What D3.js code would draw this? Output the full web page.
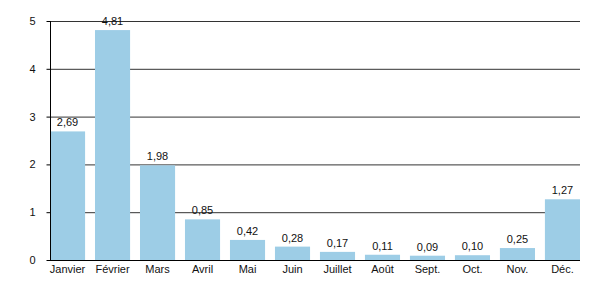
<!DOCTYPE html>
<html><head><meta charset="utf-8">
<script src="https://cdn.jsdelivr.net/npm/d3@7"></script>
<style>body{margin:0;background:#fff}svg{display:block}text{font-family:"Liberation Sans",Arial,sans-serif;font-size:11px;fill:#111}</style>
</head><body>
<svg id="c" width="600" height="300"></svg>
<script>
const months = ["Janvier","Février","Mars","Avril","Mai","Juin","Juillet","Août","Sept.","Oct.","Nov.","Déc."];
const values = [2.69,4.81,1.98,0.85,0.42,0.28,0.17,0.11,0.09,0.10,0.25,1.27];
const yTicks = [0,1,2,3,4,5];

(function(){
const svg = d3.select("#c");
const mL = 50, mR = 580, mT = 21, mB = 260;
const x = d3.scaleBand().domain(months).range([mL, mR]).paddingInner(0.22).paddingOuter(0);
const y = d3.scaleLinear().domain([0,5]).range([mB, mT]);
const fmt = v => d3.format(".2f")(v).replace(".", ",");

svg.append("g").selectAll("line").data(yTicks.filter(d=>d>0)).join("line")
  .attr("x1", mL).attr("x2", mR).attr("y1", d=>y(d)+0.5).attr("y2", d=>y(d)+0.5)
  .attr("stroke", "#333").attr("stroke-width", 1);

svg.append("g").selectAll("rect").data(values).join("rect")
  .attr("x", (d,i)=>x(months[i])).attr("width", x.bandwidth())
  .attr("y", d=>y(d)).attr("height", d=>mB - y(d))
  .attr("fill", "#9dcde6");

svg.append("g").selectAll("text").data(values).join("text")
  .attr("x", (d,i)=>x(months[i]) + x.bandwidth()/2).attr("y", d=>y(d)-5)
  .attr("text-anchor", "middle").text(fmt);

const ya = svg.append("g").attr("transform", `translate(${mL+0.5},0)`)
  .call(d3.axisLeft(y).tickValues(yTicks).tickSize(4).tickPadding(11).tickFormat(d3.format("d")));
ya.select(".domain").attr("stroke", "#000").attr("d", `M0,${mT}V${mB}`);
ya.selectAll(".tick line").attr("stroke", "#000");
ya.selectAll("text").style("font-size","11px").attr("fill","#111").attr("font-family",null);

const xa = svg.append("g").attr("transform", `translate(0,${mB+0.5})`)
  .call(d3.axisBottom(x).tickSize(0).tickPadding(5));
xa.select(".domain").attr("stroke", "#000").attr("d", `M${mL},0H${mR}`);
xa.selectAll("text").style("font-size","11px").attr("fill","#111").attr("font-family",null);
})();
</script>
</body></html>
